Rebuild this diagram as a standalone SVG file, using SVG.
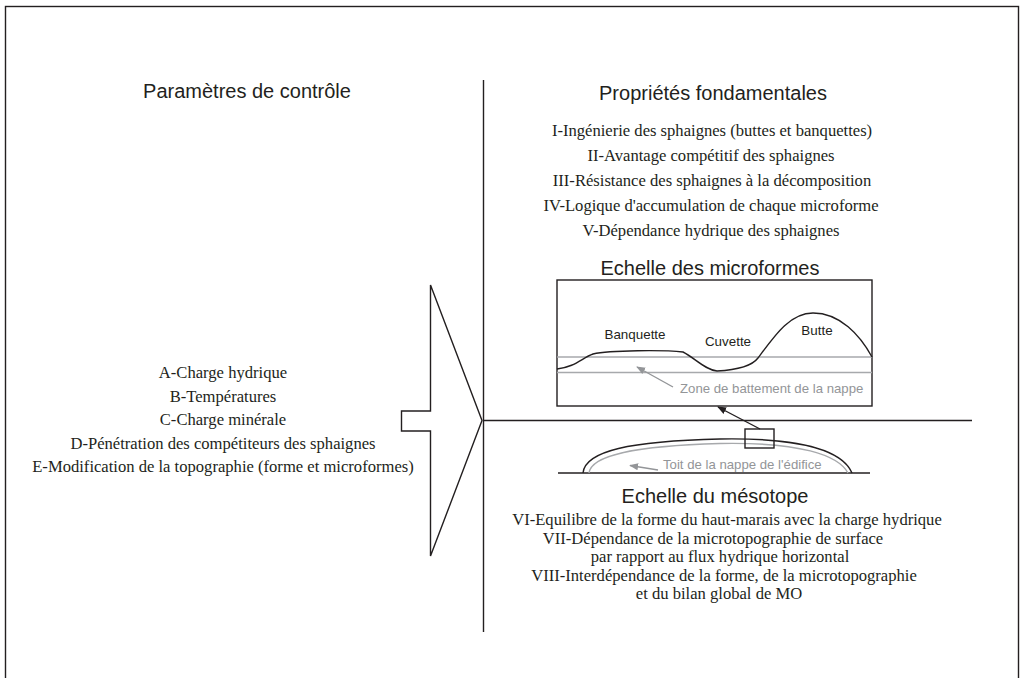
<svg xmlns="http://www.w3.org/2000/svg" width="1020" height="678" viewBox="0 0 1020 678">
<style>
.sans{font-family:"Liberation Sans",Arial,sans-serif;fill:#231f20}
.serif{font-family:"Liberation Serif","Times New Roman",serif;fill:#231f20;font-size:16.6px}
.title{font-size:20px}
.lbl{font-size:13.4px}
.glbl{font-family:"Liberation Sans",Arial,sans-serif;font-size:13.2px;fill:#939598}
.ln{stroke:#231f20;stroke-width:1.4;fill:none}
.gln{stroke:#a7a9ac;stroke-width:1.4;fill:none}
</style>
<defs>
<marker id="ahb" viewBox="0 0 10 10" refX="9" refY="5" markerWidth="9" markerHeight="9" markerUnits="userSpaceOnUse" orient="auto"><path d="M0,1 L10,5 L0,9 z" fill="#231f20"/></marker>
<marker id="ahg" viewBox="0 0 10 10" refX="9" refY="5" markerWidth="9" markerHeight="9" markerUnits="userSpaceOnUse" orient="auto"><path d="M0,1 L10,5 L0,9 z" fill="#939598"/></marker>
</defs>
<rect x="0" y="0" width="1020" height="678" fill="#fff"/>
<rect x="5.5" y="6.5" width="1013" height="700" fill="none" stroke="#231f20" stroke-width="1.4"/>

<g id="dividers">
<line class="ln" x1="483.5" y1="80" x2="483.5" y2="632"/>
<line class="ln" x1="483" y1="420.5" x2="972" y2="420.5"/>
</g>

<g id="left-title">
<text class="sans title" x="247" y="98" text-anchor="middle">Paramètres de contrôle</text>
</g>

<g id="control-parameters">
<text class="serif" x="223" y="378" text-anchor="middle">A-Charge hydrique</text>
<text class="serif" x="223" y="402" text-anchor="middle">B-Températures</text>
<text class="serif" x="223" y="425" text-anchor="middle">C-Charge minérale</text>
<text class="serif" x="223" y="449" text-anchor="middle">D-Pénétration des compétiteurs des sphaignes</text>
<text class="serif" x="223" y="472" text-anchor="middle">E-Modification de la topographie (forme et microformes)</text>
</g>

<g id="input-arrow">
<polygon class="ln" fill="#fff" points="430.5,285 430.5,411 401.5,411 401.5,431 430.5,431 430.5,556 482,420.5"/>
</g>

<g id="right-title">
<text class="sans title" x="713" y="100" text-anchor="middle">Propriétés fondamentales</text>
</g>

<g id="fundamental-properties">
<text class="serif" x="712" y="136" text-anchor="middle">I-Ingénierie des sphaignes (buttes et banquettes)</text>
<text class="serif" x="711" y="161" text-anchor="middle">II-Avantage compétitif des sphaignes</text>
<text class="serif" x="712" y="186" text-anchor="middle">III-Résistance des sphaignes à la décomposition</text>
<text class="serif" x="711" y="211" text-anchor="middle">IV-Logique d'accumulation de chaque microforme</text>
<text class="serif" x="711" y="236" text-anchor="middle">V-Dépendance hydrique des sphaignes</text>
</g>

<g id="microform-scale">
<text class="sans title" x="710" y="275" text-anchor="middle">Echelle des microformes</text>
<rect class="ln" x="557" y="280" width="315" height="126"/>
<line class="gln" x1="557" y1="357" x2="872" y2="357"/>
<line class="gln" x1="557" y1="372.5" x2="872" y2="372.5"/>
<path class="ln" d="M557,369 C575,367 582,358 593,354 C610,350 665,350 683,352 C695,358 705,370 717,371 C735,370 752,366 758,358 C775,335 790,313 813,313 C840,313 860,335 872,357"/>
<text class="sans lbl" x="635" y="339" text-anchor="middle">Banquette</text>
<text class="sans lbl" x="728" y="346" text-anchor="middle">Cuvette</text>
<text class="sans lbl" x="817" y="335" text-anchor="middle">Butte</text>
<text class="glbl" x="680" y="393">Zone de battement de la nappe</text>
</g>

<g id="mesotope-scale">
<line class="ln" x1="558" y1="473" x2="870" y2="473"/>
<path class="gln" d="M589,473 C591,456 630,446 720,443.5 C800,442 838,455 848,473"/>
<path class="ln" d="M583,473 C585,451 630,441 720,439 C805,437.5 843,452 852,473"/>
<rect class="ln" x="745" y="429" width="29" height="19"/>
<text class="glbl" x="663" y="469">Toit de la nappe de l'édifice</text>
<text class="sans title" x="715" y="503" text-anchor="middle">Echelle du mésotope</text>
</g>

<g id="mesotope-properties">
<text class="serif" x="727" y="525" text-anchor="middle">VI-Equilibre de la forme du haut-marais avec la charge hydrique</text>
<text class="serif" x="713" y="543.5" text-anchor="middle">VII-Dépendance de la microtopographie de surface</text>
<text class="serif" x="720" y="562" text-anchor="middle">par rapport au flux hydrique horizontal</text>
<text class="serif" x="724" y="580.5" text-anchor="middle">VIII-Interdépendance de la forme, de la microtopographie</text>
<text class="serif" x="719" y="599" text-anchor="middle">et du bilan global de MO</text>
</g>

<g id="connectors">
<line stroke="#231f20" stroke-width="1.4" x1="760" y1="429" x2="718" y2="407" marker-end="url(#ahb)"/>
<line stroke="#939598" stroke-width="1.4" x1="673" y1="387" x2="637" y2="367" marker-end="url(#ahg)"/>
<line stroke="#939598" stroke-width="1.4" x1="658" y1="470" x2="630" y2="465.5" marker-end="url(#ahg)"/>
</g>
</svg>
